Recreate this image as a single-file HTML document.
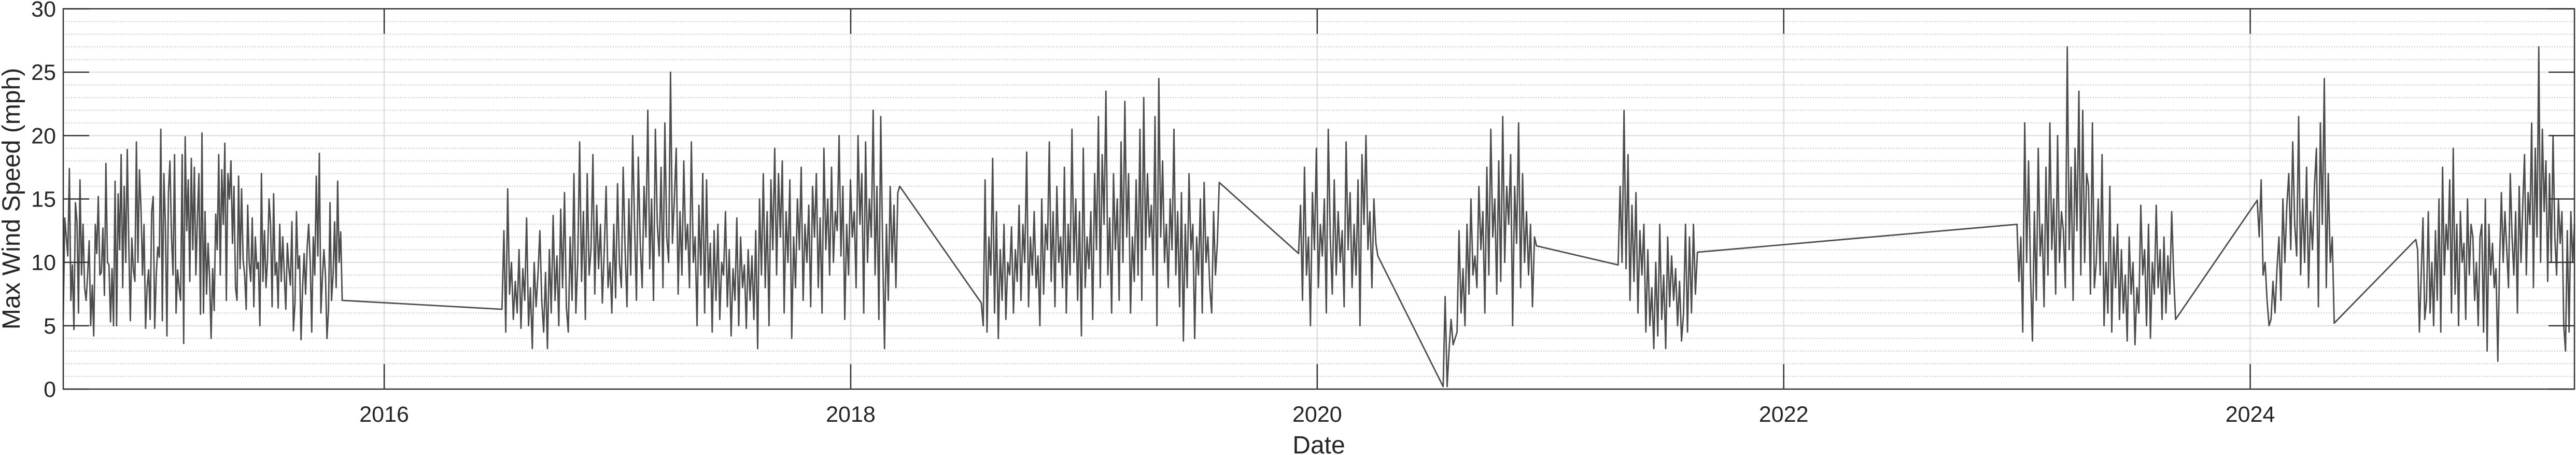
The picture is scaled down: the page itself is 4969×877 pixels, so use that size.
<!DOCTYPE html>
<html><head><meta charset="utf-8"><style>
html,body{margin:0;padding:0;background:#fff;}
svg{display:block;}
text{font-family:"Liberation Sans",sans-serif;fill:#262626;}
</style></head><body>
<svg id="chart" width="4969" height="877" viewBox="0 0 4969 877" xmlns="http://www.w3.org/2000/svg">
<g id="grid"></g>
<g id="series"></g>
<rect x="122" y="17" width="4844" height="733" fill="none" stroke="#333" stroke-width="2.5"/>
<g id="ticks"></g>
<text x="2544" y="874" font-size="48" text-anchor="middle">Date</text>
<text x="0" y="0" font-size="48" text-anchor="middle" transform="translate(38,383) rotate(-90)">Max Wind Speed (mph)</text>
</svg>
<script>
// Segment date ranges (fractional years) and values (mph)
const segStarts = [2014.624, 2016.505, 2018.56, 2019.92, 2020.54, 2021.29, 2023.0, 2024.03, 2024.71];
const segEnds   = [2015.82, 2018.21, 2019.58, 2020.26, 2020.94, 2021.63, 2023.68, 2024.36, 2025.39];
const seg1 = [5.5,13.5,12,10.5,17.4,7,9.8,4.7,14.7,13.2,6,16.5,9,13,8,7,9,11.7,5,8.2,4.2,13,10.7,15.2,9,9.2,12.7,7.4,17.8,10,9.8,5.3,9.5,5,16.4,5,15.4,11,18.5,8,16,10,18.9,11.5,5.4,11.9,9.4,8.5,19.5,10,17.3,14.2,9,13,4.8,8,9.4,5.5,14,15.2,4.8,9,11.2,10.4,20.5,5.4,17,13,4.2,15.5,18,12,9,18.5,6,9.4,8,7,18.5,3.6,19.9,12.5,16.5,8.5,18.2,11,17.5,9,13.5,17,5.9,20.2,6,14,7.5,11.5,8.8,4,9.5,6.2,13.8,11,18.5,9,17.3,13,19.4,7,17,15,18,11.5,16,8,7,16.8,9.5,15.8,10.2,9,6.3,14.5,10,8.5,13.5,6.5,12,9.5,10,5,17,8.5,12.5,8,10.2,15,13,6.5,15.4,9,10,6.4,13,8.5,12,9,6.3,11.5,9.5,8.2,13.2,4.6,6.8,14,9.5,10.5,3.9,8,10.7,7.5,11.2,13,10,4.5,12,9,16.8,10.5,18.6,6,8.8,11,9,4.0,6.3,14.7,7,9,13.2,8,16.4,10,12.4,7];
const seg2 = [6.3,12.5,4.5,15.8,7.5,10,5.5,8.5,6,11,4.8,9.5,7,13.5,5,8,3.2,10,6.5,9,12.5,7,4.5,9.2,3.2,11,6,13.7,7,10.5,5,14.2,8,15.5,6.5,4.5,12,7,17,6,10,19.5,8.5,14,5.5,17,9,11,18.5,7.5,14.5,9.5,13,6.8,11,16,8,10,6,13,7.2,16.2,10,8,17.5,11,6.5,15,9,20,13,7,18.3,11.5,8,16,12,22,9.5,15,7,20.5,13,10.5,17.5,8,21,12,10,25,11.5,15,19,7.5,14,9,18,11,13,8,19.5,10,12,5,14.5,9,17,6,16.5,8,11.5,4.5,12.5,7,13,5.5,10,9,14,6.5,11,4.2,9.5,7,13.5,5,12,8,9.8,4.8,11,7,10.5,5.5,12.5,3.2,15,9,17,8,14,5,16.5,11,19,9,17,12,18,6,14,10,16.5,4,12,8,15,11,17.5,7,13,10,14.5,6.5,16,12,17,8,13.5,6,19,11,15,9,17.5,10,14,12.5,20,10.5,16,5.5,13,9,16.5,12,14,8,20,13,17,6,19.5,10,15,12,22,9,16,5.5,21.5,11,3.2,13,7,16,10,14.5,8,15.5,16];
const seg3 = [6.8,5,16.5,4.5,12,9,18.2,6,14,4,11,7,13,5.5,10,9,12.8,6,11,8.5,14.5,7,13,10,18.7,6.5,12,9,14,8,10.5,5,15,7.5,13,11,19.5,8.5,14,6.5,16,10,12,8,17.5,6,13,9,20.5,10,15,7,14,4.2,19,8,12,9.5,14,5.5,17,11,21.5,8,18.5,13,23.5,9,13.5,6,17,11,15,7,19.5,10,22.7,12,17,6,12,8.5,16.5,9,20.5,7,23,11,17,12,14.5,9,21.5,5,24.5,12,18,10,13,8,15,11,20.5,9,14,6.5,15.5,3.8,13,8,17,11,13,4,12,9,15,6,16.3,10,12,8,6,14,9,11.5,16.3];
const seg4 = [10.7,14.5,7,17.5,9,12,5,15.5,11,19,8,13,10.5,15,6,20.5,12,7.5,16.5,9,14,10,12.5,6.5,19.5,11,15.5,8,13,9,16.5,5,18.5,13,20,11,14,8,15,11.5,10.5];
const seg5 = [0.2,7.3,0.2,3.2,5.5,3.5,4,4.5,12.5,6,9.5,5,13,7.5,15,9,10.5,8,16,11,14,6,17.5,9,20.5,12,15,7.5,18,8.5,21.5,10,16,13,18.5,5,16,11.5,21,8,17,10,14,9,13,6.5,12,11.3];
const seg6 = [9.8,16,10,22,9.5,18.5,7,14.5,8.5,15.5,6,12.5,9,13,4.5,11,5,8,3.2,10,4.2,13,5.5,9,3.2,12,6.5,10.5,7,9.5,5,8.5,3.8,6,13,4.5,12,6,13,7.5,10.8];
const seg7 = [13,8.5,12,4.5,21,10,18,9,3.8,14,7,19,10.5,13,6.5,17.5,9,21,11,15,7.5,20,10,14,12.5,8,27,11,17.5,7,19,12.5,23.5,9,22,10,17,16,7.5,21,8,10,15,9,18.5,5,10,6,16,4.5,12,8,13,5.5,11,6,9,3.8,12,7.5,10,3.5,8,6,14.5,9,11,5,13,4,10,7.5,14.5,8,11,5.5,12,6,10.5,7.5,14,9,5.5];
const seg8 = [14.9,12,16.5,9,10,7,5,5.5,8.5,6,9.5,12,7,15,10,14.5,17,11,19.5,13,10.5,21.5,9,15,10,17.5,8,14,11,16,19,6.5,21,13,24.5,8,17,10,12,5.2];
const seg9 = [11.8,11,4.5,9,13.5,5.5,7,14,6,10,5,12.5,7,15,4.5,17.5,9,13,11,16.5,6,19,7.5,13,5,14,10,11.5,5.5,15,9,13,12,7,10,5,12,13,4.5,15,3,13,9,11.5,8,9.5,2.2,10,15.5,10,14,11,8,17,12,9,14,6,16,10,14.5,18.5,9,15.5,13,21,8,19,12,27,10,20.5,14,18,8.5,17,10,20,12,9,15,11.5,14,5,3,12.5,4.5,14,10,13];
const yTicks = [0,5,10,15,20,25,30];
const xTicks = [2016,2018,2020,2022,2024];

const L=122,R=4966,T=17,B=750;
const X0=2014.624, X1=2025.39, YMAX=30;
function xs(t){return L+(t-X0)/(X1-X0)*(R-L);}
function ys(v){return B-v/YMAX*(B-T);}
const NS="http://www.w3.org/2000/svg";
function mk(tag,attrs,parent){const e=document.createElementNS(NS,tag);for(const k in attrs)e.setAttribute(k,attrs[k]);parent.appendChild(e);return e;}

const grid=document.getElementById('grid');
for(let v=1;v<YMAX;v++){
  if(v%5===0) continue;
  const ln=mk('line',{x1:L,x2:R,y1:ys(v),y2:ys(v),stroke:'#c8c8c8','stroke-width':2,'stroke-dasharray':'2 3'},grid);
  
  
}
yTicks.forEach(v=>{
  if(v===0||v===YMAX) return;
  const ln=mk('line',{x1:L,x2:R,y1:ys(v),y2:ys(v),stroke:'#e0e0e0','stroke-width':2.5},grid);
  
  
});
xTicks.forEach(t=>{
  const ln=mk('line',{x1:xs(t),x2:xs(t),y1:T,y2:B,stroke:'#e0e0e0','stroke-width':2.5},grid);
  
  
});

const segs=[seg1,seg2,seg3,seg4,seg5,seg6,seg7,seg8,seg9];
let pts=[];
segs.forEach((arr,si)=>{
  const a=segStarts[si],b=segEnds[si];
  arr.forEach((v,i)=>{
    const t=a+(b-a)*i/(arr.length-1);
    pts.push(xs(t).toFixed(1)+','+ys(v).toFixed(1));
  });
});
const pl=mk('polyline',{points:pts.join(' '),fill:'none',stroke:'#4d4d4d','stroke-width':2.8,'stroke-linejoin':'round'},document.getElementById('series'));



const tk=document.getElementById('ticks');
yTicks.forEach(v=>{
  const y=ys(v);
  const a=mk('line',{x1:L,x2:L+50,y1:y,y2:y,stroke:'#333','stroke-width':2.5},tk);
  
  
  const b=mk('line',{x1:R-50,x2:R,y1:y,y2:y,stroke:'#333','stroke-width':2.5},tk);
  
  
  const tx=mk('text',{x:L-14,y:y+15,'font-size':43,'text-anchor':'end'},tk);
  tx.textContent=v;
  
  
});
xTicks.forEach(t=>{
  const x=xs(t);
  const a=mk('line',{x1:x,x2:x,y1:B,y2:B-48,stroke:'#333','stroke-width':2.5},tk);
  
  
  const b=mk('line',{x1:x,x2:x,y1:T,y2:T+48,stroke:'#333','stroke-width':2.5},tk);
  
  
  const tx=mk('text',{x:x,y:813,'font-size':43,'text-anchor':'middle'},tk);
  tx.textContent=t;
  
  
});
</script>
</body></html>
